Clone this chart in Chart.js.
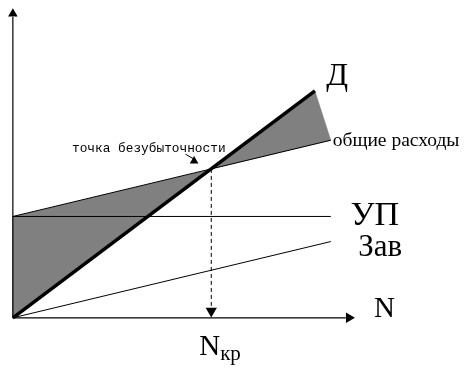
<!DOCTYPE html>
<html>
<head>
<meta charset="utf-8">
<script src="https://cdn.jsdelivr.net/npm/chart.js@4"></script>
<style>
  html, body { margin: 0; padding: 0; background: #fff; }
  #wrap { width: 468px; height: 375px; position: relative; }
</style>
</head>
<body>
<div id="wrap"><canvas id="c" width="468" height="375"></canvas></div>
<script>
// ---- data (N = volume, V = money) ----
const costN      = [0, 100];     // N range of the cost lines
const revenueN   = [0, 95];      // N range of the revenue line
const revenueD   = [0, 94];      // Д (revenue)
const fixedUP    = [42, 42];     // УП (fixed costs)
const variableZav= [0, 31.6];    // Зав (variable costs)
const totalCosts = [42, 73.6];   // общие расходы (total costs)
const breakEvenN = 62.4;         // Nкр
const breakEvenV = 61.7;
const axisEndN   = 104.7;
const axisEndV   = 124.6;

const pts = (xs, ys) => xs.map((x, i) => ({x: x, y: ys[i]}));

const base = { borderColor: '#000', pointRadius: 0, tension: 0, fill: false, clip: false };

const datasets = [
  // revenue Д (thick)
  Object.assign({}, base, { data: pts(revenueN, revenueD), borderWidth: 3.5 }),
  // total costs
  Object.assign({}, base, { data: pts(costN, totalCosts), borderWidth: 1 }),
  // fixed costs УП
  Object.assign({}, base, { data: pts(costN, fixedUP), borderWidth: 1 }),
  // variable costs Зав
  Object.assign({}, base, { data: pts(costN, variableZav), borderWidth: 1 }),
  // dashed drop line to Nкр
  Object.assign({}, base, { data: [{x: breakEvenN, y: breakEvenV}, {x: breakEvenN, y: 2}], borderWidth: 1, borderDash: [4, 3] }),
  // arrowhead of drop line
  { data: [{x: breakEvenN, y: 2.8}], showLine: false, pointStyle: 'triangle', pointRotation: 180, pointRadius: 6.5,
    backgroundColor: '#000', borderColor: '#000', borderWidth: 0, clip: false },
  // X axis
  Object.assign({}, base, { data: [{x: 0, y: 0}, {x: axisEndN, y: 0}], borderWidth: 1.2 }),
  { data: [{x: 105.7, y: 0}], showLine: false, pointStyle: 'triangle', pointRotation: 90, pointRadius: 6,
    backgroundColor: '#000', borderColor: '#000', borderWidth: 0, clip: false },
  // Y axis
  Object.assign({}, base, { data: [{x: 0, y: 0}, {x: 0, y: axisEndV}], borderWidth: 1.2 }),
  { data: [{x: 0, y: 126}], showLine: false, pointStyle: 'triangle', pointRotation: 0, pointRadius: 5.5,
    backgroundColor: '#000', borderColor: '#000', borderWidth: 0, clip: false },
  // small pointer arrow to break-even point
  Object.assign({}, base, { data: [{x: 54.3, y: 67.8}, {x: 56.8, y: 65.9}], borderWidth: 1 }),
  { data: [{x: 57.0, y: 65.0}], showLine: false, pointStyle: 'triangle', pointRotation: 0, pointRadius: 5,
    backgroundColor: '#000', borderColor: '#000', borderWidth: 0, clip: false },
  // gray loss / profit zones
  { data: [
      {x: costN[0], y: totalCosts[0]}, {x: revenueN[0], y: revenueD[0]},
      {x: breakEvenN, y: breakEvenV}, {x: revenueN[1], y: revenueD[1]},
      {x: costN[1], y: totalCosts[1]}, {x: breakEvenN, y: breakEvenV}
    ],
    fill: 'shape', backgroundColor: '#808080', borderColor: '#808080', borderWidth: 0.5,
    pointRadius: 0, tension: 0, clip: false }
];

const labels = [
  { text: 'Д', n: 98.6, v: 96.6, font: '32px "Liberation Serif"' },
  { text: 'общие расходы', n: 100.6, v: 71, font: '19.5px "Liberation Serif"' },
  { text: 'УП', n: 106.2, v: 38.6, font: '34px "Liberation Serif"' },
  { text: 'Зав', n: 108.6, v: 25.8, font: '31px "Liberation Serif"' },
  { text: 'N', n: 113.6, v: 0.2, font: '29px "Liberation Serif"' },
  { text: 'N', n: 58.6, v: -15.6, font: '29px "Liberation Serif"', sub: 'кр', subFont: '21px "Liberation Serif"', subDy: 5 },
  { text: 'точка безубыточности', n: 18.6, v: 68.6, font: '12.8px "Liberation Mono"' }
];

const textPlugin = {
  id: 'texts',
  afterDraw(chart) {
    const ctx = chart.ctx, xs = chart.scales.x, ys = chart.scales.y;
    ctx.save();
    ctx.fillStyle = '#000';
    ctx.textBaseline = 'alphabetic';
    ctx.textAlign = 'left';
    labels.forEach(l => {
      const px = xs.getPixelForValue(l.n), py = ys.getPixelForValue(l.v);
      ctx.font = l.font;
      ctx.fillText(l.text, px, py);
      if (l.sub) {
        const w = ctx.measureText(l.text).width;
        ctx.font = l.subFont;
        ctx.fillText(l.sub, px + w, py + l.subDy);
      }
    });
    ctx.restore();
  }
};

new Chart(document.getElementById('c'), {
  type: 'line',
  data: { datasets: datasets },
  options: {
    responsive: false,
    animation: false,
    events: [],
    layout: { padding: 0 },
    plugins: { legend: { display: false }, tooltip: { enabled: false } },
    scales: {
      x: { type: 'linear', min: -2, max: 141.1, display: false },
      y: { type: 'linear', min: -21, max: 129, display: false }
    }
  },
  plugins: [textPlugin]
});
</script>
</body>
</html>
